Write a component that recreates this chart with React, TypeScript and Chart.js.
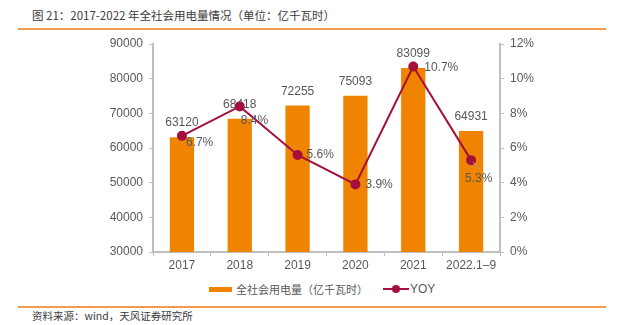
import React, { useEffect, useRef } from "react";
import { Chart, registerables } from "chart.js";

Chart.register(...registerables);

const categories = ["2017", "2018", "2019", "2020", "2021", "2022.1\u20139"];
const consumption = [63120, 68418, 72255, 75093, 83099, 64931];
const yoy = [6.7, 8.4, 5.6, 3.9, 10.7, 5.3];
const leftTicks = { min: 30000, max: 90000, step: 10000 };
const rightTicks = { min: 0, max: 12, step: 2 };

const titleText = "图 21：2017-2022 年全社会用电量情况（单位：亿千瓦时）";
const sourceText = "资料来源：wind，天风证券研究所";
const barLegend = "全社会用电量（亿千瓦时）";
const lineLegend = "YOY";

const BAR_COLOR = "#F08300";
const LINE_COLOR = "#A50F3C";
const TEXT_COLOR = "#595959";
const AXIS_COLOR = "#BFBFBF";
const RULE_COLOR = "#F39A4B";
const NUM_FONT = "'Liberation Sans', Arial, sans-serif";
const CJK_FONT = "'Noto Sans CJK SC', 'Liberation Sans', sans-serif";

// label placement style for YOY labels (dx, dy relative to point)
const yoyLabelOffsets: [number, number][] = [
  [4, 7],
  [1, 14],
  [9, 0],
  [10, 0],
  [11, 1],
  [-6, 19],
];

const CANVAS_W = 623;
const CANVAS_H = 250;

const labelPlugin = {
  id: "valueLabels",
  afterDatasetDraw(chart: any, args: any) {
    if (args.index !== 0) return;
    const ctx = chart.ctx;
    const meta = chart.getDatasetMeta(0);
    ctx.save();
    ctx.fillStyle = TEXT_COLOR;
    ctx.font = `12px ${NUM_FONT}`;
    ctx.textAlign = "center";
    ctx.textBaseline = "middle";
    meta.data.forEach((el: any, i: number) => {
      ctx.fillText(String(consumption[i]), el.x, el.y - 14);
    });
    ctx.restore();
  },
  afterDatasetsDraw(chart: any) {
    const ctx = chart.ctx;
    const meta = chart.getDatasetMeta(1);
    ctx.save();
    ctx.fillStyle = TEXT_COLOR;
    ctx.font = `12px ${NUM_FONT}`;
    ctx.textAlign = "left";
    ctx.textBaseline = "middle";
    meta.data.forEach((el: any, i: number) => {
      const [dx, dy] = yoyLabelOffsets[i];
      if (i === yoy.length - 1) {
        ctx.strokeStyle = "#A6A6A6";
        ctx.lineWidth = 1;
        ctx.beginPath();
        ctx.moveTo(el.x + 2, el.y + 2);
        ctx.lineTo(el.x + 8, el.y + 9);
        ctx.stroke();
      }
      ctx.fillText(yoy[i].toFixed(1) + "%", el.x + dx, el.y + dy);
    });
    ctx.restore();
  },
};

export default function App() {
  const canvasRef = useRef<HTMLCanvasElement | null>(null);

  useEffect(() => {
    if (!canvasRef.current) return;
    const chart = new Chart(canvasRef.current, {
      type: "bar",
      data: {
        labels: categories,
        datasets: [
          {
            type: "bar",
            label: barLegend,
            data: consumption,
            backgroundColor: BAR_COLOR,
            borderWidth: 0,
            yAxisID: "y",
            categoryPercentage: 1,
            barPercentage: 0.42,
            order: 2,
          } as any,
          {
            type: "line",
            label: lineLegend,
            data: yoy,
            borderColor: LINE_COLOR,
            backgroundColor: LINE_COLOR,
            borderWidth: 2,
            pointRadius: 4,
            pointBackgroundColor: LINE_COLOR,
            pointBorderColor: LINE_COLOR,
            yAxisID: "y1",
            tension: 0,
            order: 1,
          } as any,
        ],
      },
      options: {
        responsive: false,
        animation: false,
        devicePixelRatio: 1,
        layout: { padding: { top: 14, left: 0, right: 0, bottom: 0 } },
        plugins: {
          legend: { display: false },
          tooltip: { enabled: false },
        },
        scales: {
          x: {
            grid: {
              display: true,
              drawOnChartArea: false,
              drawTicks: true,
              tickLength: 4,
              color: AXIS_COLOR,
              offset: true,
            },
            border: { color: AXIS_COLOR, width: 2 },
            ticks: {
              color: TEXT_COLOR,
              font: { family: NUM_FONT, size: 12 },
              padding: 2,
              maxRotation: 0,
            },
            afterFit: (s: any) => {
              s.height = 28;
            },
          },
          y: {
            position: "left",
            min: leftTicks.min,
            max: leftTicks.max,
            ticks: {
              stepSize: leftTicks.step,
              color: TEXT_COLOR,
              font: { family: NUM_FONT, size: 12 },
              padding: 6,
              callback: (v: any) => String(v),
            },
            grid: {
              display: true,
              drawOnChartArea: false,
              drawTicks: true,
              tickLength: 4,
              color: AXIS_COLOR,
            },
            border: { color: AXIS_COLOR, width: 2 },
            afterFit: (s: any) => {
              s.width = 153;
            },
          },
          y1: {
            position: "right",
            min: rightTicks.min,
            max: rightTicks.max,
            ticks: {
              stepSize: rightTicks.step,
              color: TEXT_COLOR,
              font: { family: NUM_FONT, size: 12 },
              padding: 6,
              callback: (v: any) => `${v}%`,
            },
            grid: {
              display: true,
              drawOnChartArea: false,
              drawTicks: true,
              tickLength: 4,
              color: AXIS_COLOR,
            },
            border: { color: AXIS_COLOR, width: 2 },
            afterFit: (s: any) => {
              s.width = CANVAS_W - 500;
            },
          },
        },
      } as any,
      plugins: [labelPlugin],
    });
    return () => chart.destroy();
  }, []);

  return (
    <div
      style={{
        position: "fixed",
        left: 0,
        top: 0,
        width: 623,
        height: 325,
        background: "#fff",
        overflow: "hidden",
      }}
    >
      <div
        style={{
          position: "absolute",
          left: 32,
          top: 6,
          fontFamily: CJK_FONT,
          fontSize: 11.5,
          lineHeight: "18px",
          color: "#3a3a3a",
          whiteSpace: "nowrap",
        }}
      >
        {titleText}
      </div>
      <div
        style={{
          position: "absolute",
          left: 18,
          top: 28,
          width: 588,
          height: 2,
          background: RULE_COLOR,
        }}
      />
      <canvas
        ref={canvasRef}
        width={CANVAS_W}
        height={CANVAS_H}
        style={{ position: "absolute", left: 0, top: 30, width: CANVAS_W, height: CANVAS_H }}
      />
      {/* legend */}
      <div
        style={{
          position: "absolute",
          left: 209,
          top: 287,
          width: 23,
          height: 5,
          background: BAR_COLOR,
        }}
      />
      <div
        style={{
          position: "absolute",
          left: 236,
          top: 280,
          fontFamily: CJK_FONT,
          fontSize: 11,
          lineHeight: "18px",
          color: TEXT_COLOR,
          whiteSpace: "nowrap",
        }}
      >
        {barLegend}
      </div>
      <div
        style={{
          position: "absolute",
          left: 383,
          top: 288,
          width: 26,
          height: 2,
          background: LINE_COLOR,
        }}
      />
      <div
        style={{
          position: "absolute",
          left: 392,
          top: 285,
          width: 8,
          height: 8,
          borderRadius: 4,
          background: LINE_COLOR,
        }}
      />
      <div
        style={{
          position: "absolute",
          left: 410,
          top: 280,
          fontFamily: NUM_FONT,
          fontSize: 12,
          lineHeight: "18px",
          color: TEXT_COLOR,
          whiteSpace: "nowrap",
        }}
      >
        {lineLegend}
      </div>
      <div
        style={{
          position: "absolute",
          left: 18,
          top: 306,
          width: 588,
          height: 2,
          background: RULE_COLOR,
        }}
      />
      <div
        style={{
          position: "absolute",
          left: 32,
          top: 308,
          fontFamily: CJK_FONT,
          fontSize: 10.5,
          lineHeight: "16px",
          color: "#3a3a3a",
          whiteSpace: "nowrap",
        }}
      >
        {sourceText}
      </div>
    </div>
  );
}
